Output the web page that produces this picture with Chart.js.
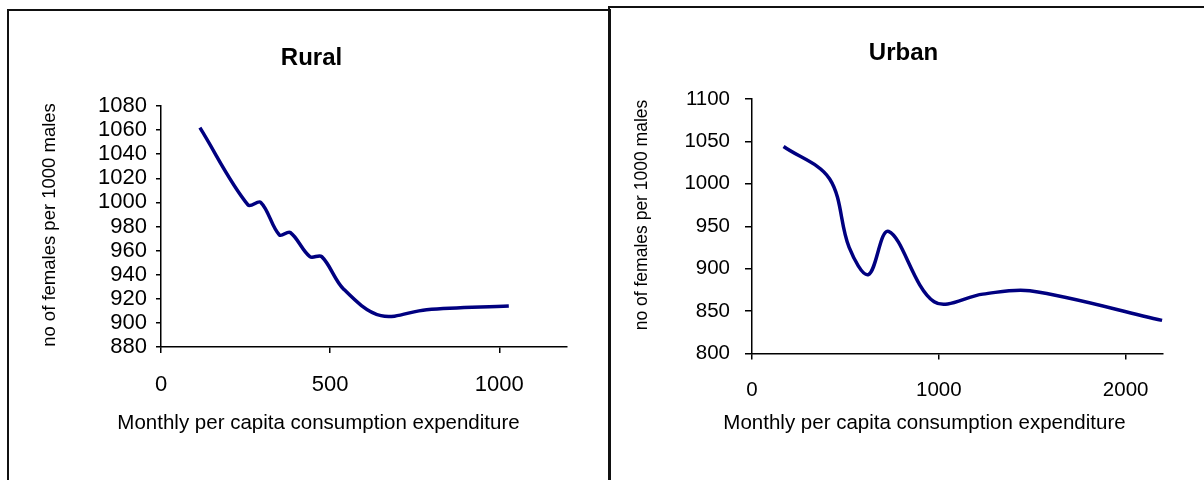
<!DOCTYPE html>
<html>
<head>
<meta charset="utf-8">
<script src="https://cdn.jsdelivr.net/npm/chart.js@4/dist/chart.umd.min.js"></script>
<style>
  body { margin: 0; background: #fff; width: 1204px; height: 480px; overflow: hidden; position: relative; }
  .box { position: absolute; border: 2px solid #111; border-bottom: none; }
  canvas { position: absolute; top: 0; }
</style>
</head>
<body>
<div class="box" style="left:7px; top:9px; width:600px; height:480px;"></div>
<div class="box" style="left:608px; top:6px; width:600px; height:480px; border-right:none;"></div>
<canvas id="rural" width="604" height="480" style="left:0px"></canvas>
<canvas id="urban" width="600" height="480" style="left:604px"></canvas>
<script>
// values
const ruralMpce  = [115, 257, 295, 350, 382, 440, 475, 540, 650, 785, 1028];
const ruralRatio = [1062, 998, 1000, 973, 975, 955, 955, 928, 906, 911, 914];
const ruralXTicks = [0, 500, 1000];
const ruralYTicks = [880, 900, 920, 940, 960, 980, 1000, 1020, 1040, 1060, 1080];

const urbanMpce  = [169, 415, 520, 623, 731, 975, 1236, 1487, 2195];
const urbanRatio = [1044, 1006, 925, 893, 944, 861, 870, 874, 839];
const urbanXTicks = [0, 1000, 2000];
const urbanYTicks = [800, 850, 900, 950, 1000, 1050, 1100];

const xLabel = 'Monthly per capita consumption expenditure';
const yLabel = 'no of females per 1000 males';

const FONT = "'Liberation Sans', Arial, sans-serif";
Chart.defaults.color = '#000';
Chart.defaults.font.family = FONT;

// axis titles sit where the original put them, not centred on the plot
const axisTitles = {
    id: 'axisTitles',
    afterDraw(chart, args, opts) {
        const ctx = chart.ctx;
        ctx.save();
        ctx.fillStyle = '#000';
        ctx.textAlign = 'center';
        ctx.textBaseline = 'middle';
        ctx.font = opts.xSize + 'px ' + FONT;
        ctx.fillText(xLabel, opts.xAt[0], opts.xAt[1]);
        ctx.translate(opts.yAt[0], opts.yAt[1]);
        ctx.rotate(-Math.PI / 2);
        ctx.font = opts.ySize + 'px ' + FONT;
        ctx.fillText(yLabel, 0, 0);
        ctx.restore();
    }
};

function makeChart(id, cfg) {
    const points = cfg.xs.map((x, i) => ({ x: x, y: cfg.ys[i] }));
    return new Chart(document.getElementById(id), {
        type: 'scatter',
        data: {
            datasets: [{
                data: points,
                showLine: true,
                borderColor: '#000080',
                borderWidth: 3.5,
                pointRadius: 0,
                tension: 0.35,
                clip: false
            }]
        },
        plugins: [axisTitles],
        options: {
            responsive: false,
            animation: false,
            devicePixelRatio: 1,
            layout: { padding: { left: cfg.padLeft, right: cfg.padRight } },
            plugins: {
                legend: { display: false },
                tooltip: { enabled: false },
                title: {
                    display: true,
                    text: cfg.title,
                    font: { size: 24, weight: 'bold' },
                    padding: { top: cfg.titleTop, bottom: cfg.titleBottom }
                },
                axisTitles: cfg.axisTitles
            },
            scales: {
                x: {
                    type: 'linear',
                    min: 0,
                    max: cfg.xMax,
                    afterFit: s => { s.height = cfg.xHeight; },
                    afterBuildTicks: s => { s.ticks = cfg.xTicks.map(v => ({ value: v })); },
                    border: { color: '#000', width: 1.5 },
                    grid: { drawOnChartArea: false, color: '#000', lineWidth: 1.5, tickLength: 6 },
                    ticks: { padding: cfg.xPad, maxRotation: 0, autoSkip: false,
                             font: { size: cfg.tickSize }, callback: v => String(v) }
                },
                y: {
                    min: cfg.yTicks[0],
                    max: cfg.yTicks[cfg.yTicks.length - 1],
                    afterFit: s => { s.width = cfg.yWidth; },
                    afterBuildTicks: s => { s.ticks = cfg.yTicks.map(v => ({ value: v })); },
                    border: { color: '#000', width: 1.5 },
                    grid: { drawOnChartArea: false, color: '#000', lineWidth: 1.5, tickLength: cfg.yTick },
                    ticks: { autoSkip: false, padding: cfg.yPad,
                             font: { size: cfg.tickSize }, callback: v => String(v) }
                }
            }
        }
    });
}

makeChart('rural', {
    title: 'Rural', xs: ruralMpce, ys: ruralRatio,
    xTicks: ruralXTicks, yTicks: ruralYTicks, xMax: 1200,
    titleTop: 44, titleBottom: 33.2, padLeft: 56, padRight: 37,
    xHeight: 133, yWidth: 105, yTick: 5, yPad: 9, xPad: 19, tickSize: 22,
    axisTitles: { xAt: [318.5, 423], xSize: 20.5, yAt: [50, 225], ySize: 18.5 }
});

makeChart('urban', {
    title: 'Urban', xs: urbanMpce, ys: urbanRatio,
    xTicks: urbanXTicks, yTicks: urbanYTicks, xMax: 2200,
    titleTop: 38.6, titleBottom: 31.6, padLeft: 40, padRight: 41,
    xHeight: 126.5, yWidth: 108, yTick: 7, yPad: 15, xPad: 19, tickSize: 20.5,
    axisTitles: { xAt: [320.5, 423], xSize: 20.5, yAt: [38, 215], ySize: 17.5 }
});
</script>
</body>
</html>
